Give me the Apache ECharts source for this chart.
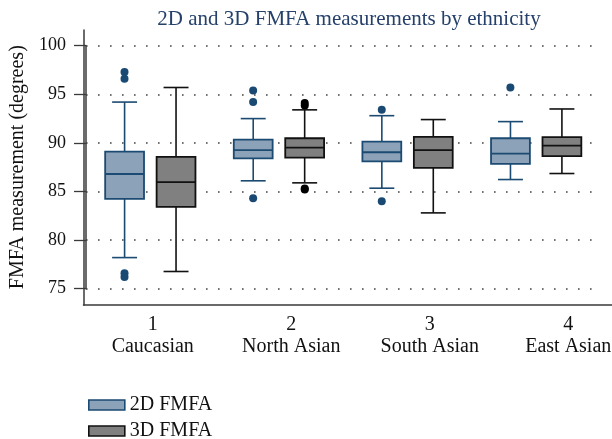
<!DOCTYPE html>
<html><head><meta charset="utf-8">
<script src="https://cdn.jsdelivr.net/npm/echarts@6.0.0/dist/echarts.min.js"></script>
<style>html,body{margin:0;padding:0;background:#fff}#c{width:612px;height:439px}</style>
</head><body><div id="c"></div>
<script>
const categories = ['Caucasian', 'North Asian', 'South Asian', 'East Asian'];
const catNumbers = ['1', '2', '3', '4'];
// [min whisker, Q1, median, Q3, max whisker]
const box2D = [
  [78.2, 84.25, 86.8, 89.1, 94.2],
  [86.1, 88.4, 89.25, 90.34, 92.5],
  [85.34, 88.1, 89.04, 90.13, 92.8],
  [86.23, 87.84, 88.9, 90.48, 92.19]
];
const box3D = [
  [76.77, 83.42, 85.96, 88.56, 95.7],
  [85.89, 88.49, 89.52, 90.48, 93.4],
  [82.8, 87.43, 89.25, 90.62, 92.4],
  [86.85, 88.63, 89.72, 90.59, 93.49]
];
// [category index, value]
const outliers2D = [[0, 97.3], [0, 96.6], [0, 76.6], [0, 76.2], [1, 95.4], [1, 94.2], [1, 84.3], [2, 93.4], [2, 84.0], [3, 95.7]];
const outliers3D = [[1, 94.1], [1, 93.85], [1, 85.3], [1, 85.2]];
const yMin = 75, yMax = 100, yStep = 5;

const FONT = 'Liberation Serif';
const AXIS = '#3a3a3a';
const C2 = {fill: '#8ca2b8', stroke: '#1b4a72'};
const C3 = {fill: '#808080', stroke: '#111111'};
const OFF = 0.2;

function boxRenderer(sign, col) {
  return function (params, api) {
    const c = api.value(0);
    const pMin = api.coord([c, api.value(1)]);
    const pQ1 = api.coord([c, api.value(2)]);
    const pMed = api.coord([c, api.value(3)]);
    const pQ3 = api.coord([c, api.value(4)]);
    const pMax = api.coord([c, api.value(5)]);
    const band = api.size([1, 0])[0];
    const x = pMin[0] + sign * band * OFF;
    const hw = band * 0.151, cw = band * 0.097;
    const ls = {stroke: col.stroke, lineWidth: 1.6};
    return {type: 'group', children: [
      {type: 'line', shape: {x1: x, y1: pMax[1], x2: x, y2: pQ3[1]}, style: ls},
      {type: 'line', shape: {x1: x, y1: pQ1[1], x2: x, y2: pMin[1]}, style: ls},
      {type: 'line', shape: {x1: x - cw, y1: pMax[1], x2: x + cw, y2: pMax[1]}, style: ls},
      {type: 'line', shape: {x1: x - cw, y1: pMin[1], x2: x + cw, y2: pMin[1]}, style: ls},
      {type: 'rect', shape: {x: x - hw, y: pQ3[1], width: 2 * hw, height: pQ1[1] - pQ3[1]},
        style: {fill: col.fill, stroke: col.stroke, lineWidth: 1.8}},
      {type: 'line', shape: {x1: x - hw, y1: pMed[1], x2: x + hw, y2: pMed[1]}, style: {stroke: col.stroke, lineWidth: 1.8}}
    ]};
  };
}

const chart = echarts.init(document.getElementById('c'), null, {renderer: 'canvas'});
chart.setOption({
  backgroundColor: '#ffffff',
  animation: false,
  textStyle: {fontFamily: FONT},
  title: {
    text: '2D and 3D FMFA measurements by ethnicity',
    left: 344, top: 4, textAlign: 'center',
    textStyle: {fontFamily: FONT, fontSize: 21, fontWeight: 'normal', color: '#25406a'}
  },
  legend: {
    orient: 'vertical', left: 83, top: 390, height: 60,
    itemWidth: 36, itemHeight: 10, itemGap: 6,
    textStyle: {fontFamily: FONT, fontSize: 20, lineHeight: 20, color: '#111'},
    data: [
      {name: '2D FMFA', icon: 'rect', itemStyle: {color: C2.fill, borderColor: C2.stroke, borderWidth: 1.6}},
      {name: '3D FMFA', icon: 'rect', itemStyle: {color: C3.fill, borderColor: C3.stroke, borderWidth: 1.6}}
    ]
  },
  grid: [
    {left: 83.5, right: -25.5, top: 30, bottom: 134, outerBoundsMode: 'none', containLabel: false},
    {left: 83.5, right: 11.5, top: 45.7, bottom: 150.3}
  ],
  xAxis: [
    {
      gridIndex: 0, type: 'category', boundaryGap: true,
      data: catNumbers.map((n, i) => n + '\n' + categories[i]),
      axisLine: {show: true, onZero: false, lineStyle: {color: AXIS, width: 1.5}},
      axisTick: {show: false},
      axisLabel: {fontFamily: FONT, fontSize: 20, lineHeight: 22.7, color: '#111', margin: 8, interval: 0},
      splitLine: {show: false}
    },
    {
      gridIndex: 1, type: 'category', boundaryGap: true, data: categories,
      axisLine: {show: false}, axisTick: {show: false}, axisLabel: {show: false}, splitLine: {show: false}
    }
  ],
  yAxis: [
    {
      gridIndex: 0, type: 'value', min: 0, max: 1,
      axisLine: {show: true, onZero: false, lineStyle: {color: AXIS, width: 1.5}},
      axisTick: {show: false}, axisLabel: {show: false}, splitLine: {show: false}
    },
    {
      gridIndex: 1, type: 'value', min: yMin, max: yMax, interval: yStep,
      name: 'FMFA measurement (degrees)', nameLocation: 'middle', nameGap: 58,
      nameTextStyle: {fontFamily: FONT, fontSize: 20, color: '#111'},
      axisLine: {show: true, onZero: false, lineStyle: {color: AXIS, width: 1.5}},
      axisTick: {show: true, length: 12, lineStyle: {color: AXIS, width: 1.3}},
      axisLabel: {fontFamily: FONT, fontSize: 18, color: '#111', margin: 20},
      splitLine: {show: true, lineStyle: {color: '#444', width: 1.6, type: [1.6, 10.4]}}
    }
  ],
  series: [
    {
      name: '2D FMFA', type: 'custom', xAxisIndex: 1, yAxisIndex: 1,
      itemStyle: {color: C2.fill, borderColor: C2.stroke},
      encode: {x: 0, y: [1, 2, 3, 4, 5]},
      renderItem: boxRenderer(-1, C2),
      data: box2D.map((v, i) => [i].concat(v))
    },
    {
      name: '3D FMFA', type: 'custom', xAxisIndex: 1, yAxisIndex: 1,
      itemStyle: {color: C3.fill, borderColor: C3.stroke},
      encode: {x: 0, y: [1, 2, 3, 4, 5]},
      renderItem: boxRenderer(1, C3),
      data: box3D.map((v, i) => [i].concat(v))
    },
    {
      name: '2D outliers', type: 'scatter', xAxisIndex: 1, yAxisIndex: 1,
      symbol: 'circle', symbolSize: 8, symbolOffset: [-25.8, 0],
      itemStyle: {color: '#1a4a73', opacity: 1}, data: outliers2D, z: 3
    },
    {
      name: '3D outliers', type: 'scatter', xAxisIndex: 1, yAxisIndex: 1,
      symbol: 'circle', symbolSize: 8, symbolOffset: [25.8, 0],
      itemStyle: {color: '#000', opacity: 1}, data: outliers3D, z: 3
    }
  ]
});
</script></body></html>
